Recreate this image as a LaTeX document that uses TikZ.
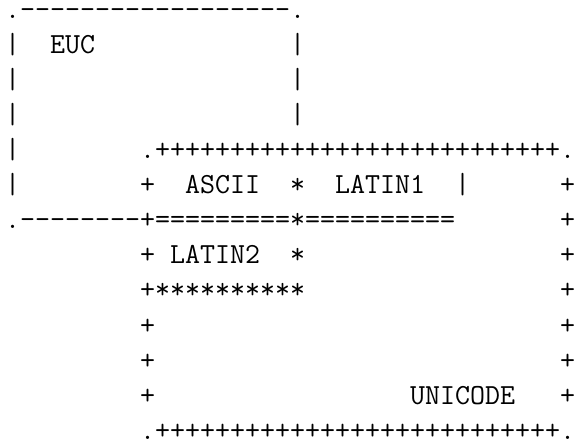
\documentclass[tikz,border=0pt]{standalone}
\usepackage{fontspec}
\setmonofont{Latin Modern Mono}
\usetikzlibrary{positioning}

\ExplSyntaxOn
\cs_new:Npn \rep #1#2 { \prg_replicate:nn {#1} {#2} }
\ExplSyntaxOff

\begin{document}
\begin{tikzpicture}[
        x=1pt, y=1pt,
        row/.style={anchor=base west, inner sep=0pt, font=\ttfamily\fontsize{29.12}{35}\selectfont},
    ]
    \useasboundingbox (0,0) rectangle (585,441);

    % EUC box
    \node [row, text height=0.3em] (euctop) at (5.05,422.70) {.\rep{18}{-}.};
    \node [row] (euc)      at (5.05,387.62) {|\rep{2}{~}EUC\rep{13}{~}|};
    \node [row] (eucmid)   at (5.05,352.54) {|\rep{18}{~}|};
    \node [row] (euclow)   at (5.05,317.46) {|\rep{18}{~}|};

    % UNICODE box and the overlaps
    \node [row] (unitop)   at (5.05,282.38) {|\rep{8}{~}.\rep{27}{+}.};
    \node [row] (ascii)    at (5.05,247.30) {|\rep{8}{~}+\rep{2}{~}ASCII\rep{2}{~}*\rep{2}{~}LATIN1\rep{2}{~}|\rep{6}{~}+};
    \node [row] (eucbot)   at (5.05,212.22) {.\rep{8}{-}+\rep{9}{=}*\rep{10}{=}\rep{7}{~}+};
    \node [row] (latintwo) at (5.05,177.14) {\rep{9}{~}+~LATIN2\rep{2}{~}*\rep{17}{~}+};
    \node [row] (latinbot) at (5.05,142.06) {\rep{9}{~}+\rep{10}{*}\rep{17}{~}+};
    \node [row] (unimid)   at (5.05,106.98) {\rep{9}{~}+\rep{27}{~}+};
    \node [row] (unilow)   at (5.05,71.90)  {\rep{9}{~}+\rep{27}{~}+};
    \node [row] (unicode)  at (5.05,36.82)  {\rep{9}{~}+\rep{17}{~}UNICODE\rep{3}{~}+};
    \node [row, text depth=0pt] (unibot) at (5.05,1.74) {\rep{9}{~}.\rep{27}{+}.};

\end{tikzpicture}
\end{document}
